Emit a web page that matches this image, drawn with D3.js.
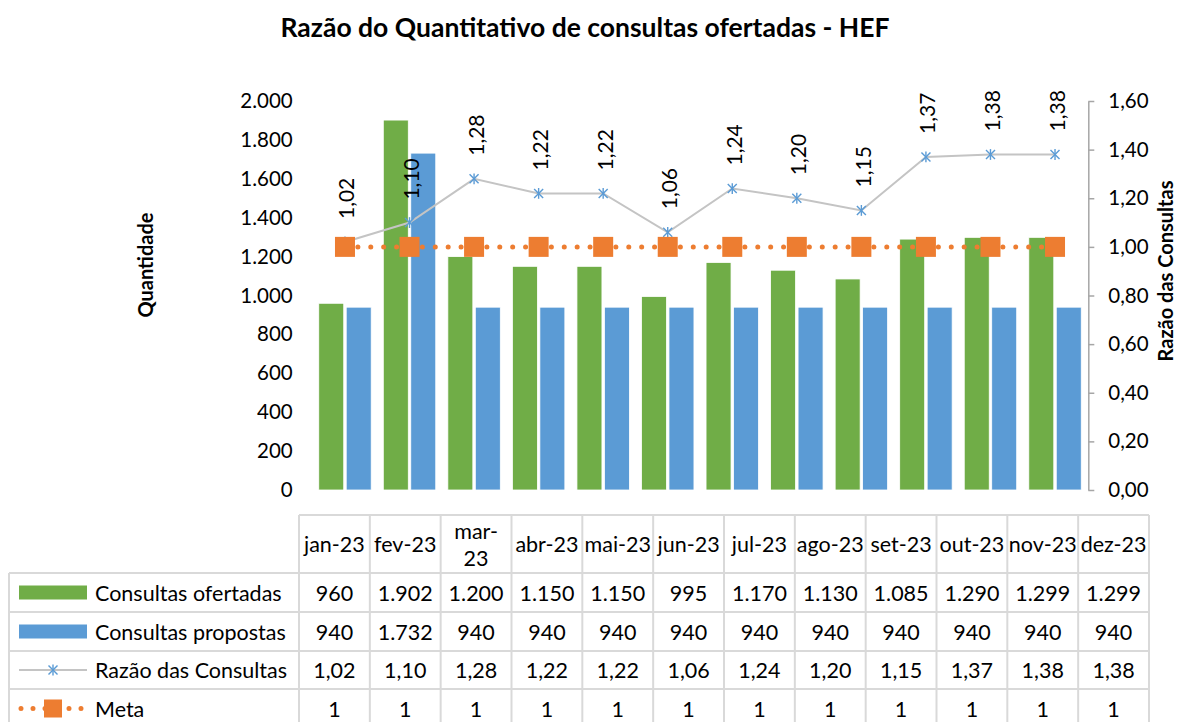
<!DOCTYPE html>
<html>
<head>
<meta charset="utf-8">
<script src="https://cdn.jsdelivr.net/npm/d3@7"></script>
<style>
  html, body { margin: 0; padding: 0; background: #fff; }
  svg { display: block; font-family: Lato, "Open Sans", sans-serif; }
</style>
</head>
<body>
<svg id="chart" width="1179" height="722"></svg>
<script>
// Monthly figures
const months = ["jan-23", "fev-23", "mar-23", "abr-23", "mai-23", "jun-23",
                "jul-23", "ago-23", "set-23", "out-23", "nov-23", "dez-23"];
// Table header lines per month (the narrow March cell wraps)
const headerLines = [["jan-23"], ["fev-23"], ["mar-", "23"], ["abr-23"], ["mai-23"], ["jun-23"],
                     ["jul-23"], ["ago-23"], ["set-23"], ["out-23"], ["nov-23"], ["dez-23"]];
const ofertadas = [960, 1902, 1200, 1150, 1150, 995, 1170, 1130, 1085, 1290, 1299, 1299];
const propostas = [940, 1732, 940, 940, 940, 940, 940, 940, 940, 940, 940, 940];
const razao = [1.02, 1.10, 1.28, 1.22, 1.22, 1.06, 1.24, 1.20, 1.15, 1.37, 1.38, 1.38];
const meta = [1, 1, 1, 1, 1, 1, 1, 1, 1, 1, 1, 1];
const leftTicks = [0, 200, 400, 600, 800, 1000, 1200, 1400, 1600, 1800, 2000];
const rightTicks = [0, 0.2, 0.4, 0.6, 0.8, 1.0, 1.2, 1.4, 1.6];

const C = { green: "#70AD47", blue: "#5B9BD5", orange: "#ED7D31", line: "#C4C4C4", grid: "#D9D9D9", axis: "#A6A6A6", text: "#000" };
const FONT = "Lato, 'Open Sans', sans-serif";

const br = d3.formatLocale({ decimal: ",", thousands: ".", grouping: [3], currency: ["R$", ""] });
const fInt = br.format(",.0f");
const fDec = br.format(",.2f");

const svg = d3.select("#chart");

// Title
svg.append("text")
  .attr("x", 585).attr("y", 37)
  .attr("text-anchor", "middle")
  .attr("font-size", 26.5).attr("font-weight", "bold")
  .text("Razão do Quantitativo de consultas ofertadas - HEF");

// Plot area
const plot = { left: 312.7, right: 1087.3, top: 101, bottom: 490 };

const x = d3.scaleBand().domain(months).range([plot.left, plot.right]);
const x1 = d3.scaleBand().domain(["o", "p"]).range([0, x.bandwidth()]).paddingInner(0.09).paddingOuter(0.22);
const yL = d3.scaleLinear().domain([0, 2000]).range([plot.bottom, plot.top]);
const yR = d3.scaleLinear().domain([0, 1.6]).range([plot.bottom, plot.top]);

// Left axis (labels only)
const gL = svg.append("g").attr("transform", `translate(${plot.left},0)`)
  .call(d3.axisLeft(yL).tickValues(leftTicks).tickFormat(fInt).tickSize(0).tickPadding(20));
gL.select(".domain").remove();
gL.selectAll("text").attr("font-size", 20.5).attr("font-family", FONT).attr("fill", C.text);

// Right axis
const gR = svg.append("g").attr("transform", `translate(${plot.right + 1},0)`)
  .call(d3.axisRight(yR).tickValues(rightTicks).tickFormat(fDec).tickSize(6).tickSizeOuter(0).tickPadding(14));
gR.select(".domain").attr("stroke", C.axis).attr("stroke-width", 1.5);
gR.selectAll(".tick line").attr("stroke", C.axis).attr("stroke-width", 1.5);
gR.selectAll("text").attr("font-size", 20.5).attr("font-family", FONT).attr("fill", C.text);

// Axis titles
svg.append("text")
  .attr("transform", `translate(153,265) rotate(-90)`)
  .attr("text-anchor", "middle").attr("font-size", 20).attr("font-weight", "bold")
  .text("Quantidade");
svg.append("text")
  .attr("transform", `translate(1173,271) rotate(-90)`)
  .attr("text-anchor", "middle").attr("font-size", 20).attr("font-weight", "bold")
  .text("Razão das Consultas");

// Bars
const bars = svg.append("g");
months.forEach((m, i) => {
  bars.append("rect")
    .attr("x", x(m) + x1("o")).attr("width", x1.bandwidth())
    .attr("y", yL(ofertadas[i])).attr("height", yL(0) - yL(ofertadas[i]))
    .attr("fill", C.green).attr("stroke", "#fff").attr("stroke-width", 0.8);
  bars.append("rect")
    .attr("x", x(m) + x1("p")).attr("width", x1.bandwidth())
    .attr("y", yL(propostas[i])).attr("height", yL(0) - yL(propostas[i]))
    .attr("fill", C.blue).attr("stroke", "#fff").attr("stroke-width", 0.8);
});

const cx = m => x(m) + x.bandwidth() / 2;

// Ratio line
svg.append("path")
  .datum(razao)
  .attr("fill", "none").attr("stroke", C.line).attr("stroke-width", 2)
  .attr("d", d3.line().x((d, i) => cx(months[i])).y(d => yR(d)));

// Asterisk markers
const star = (g, px, py, r) => {
  const s = g.append("g").attr("stroke", C.blue).attr("stroke-width", 1.4);
  s.append("line").attr("x1", px - r).attr("y1", py - r).attr("x2", px + r).attr("y2", py + r);
  s.append("line").attr("x1", px - r).attr("y1", py + r).attr("x2", px + r).attr("y2", py - r);
  s.append("line").attr("x1", px).attr("y1", py - r * 1.2).attr("x2", px).attr("y2", py + r * 1.2);
};
const stars = svg.append("g");
razao.forEach((v, i) => star(stars, cx(months[i]), yR(v), 4.5));

// Meta dotted line and square markers
svg.append("path")
  .datum(meta)
  .attr("fill", "none").attr("stroke", C.orange).attr("stroke-width", 5)
  .attr("stroke-linecap", "round").attr("stroke-dasharray", "0 12.9")
  .attr("d", d3.line().x((d, i) => cx(months[i])).y(d => yR(d)));
svg.append("g").selectAll("rect").data(meta).join("rect")
  .attr("x", (d, i) => cx(months[i]) - 10).attr("y", d => yR(d) - 10)
  .attr("width", 20).attr("height", 20).attr("fill", C.orange);

// Ratio value labels
svg.append("g").selectAll("text").data(razao).join("text")
  .attr("transform", (d, i) => `translate(${cx(months[i]) + 1},${yR(d) - 23}) rotate(-90)`)
  .attr("text-anchor", "start").attr("dominant-baseline", "central")
  .attr("font-size", 21).attr("fill", C.text)
  .text(d => fDec(d));

// Data table
const tbl = { left: 9, keyRight: 299, right: 1149, headTop: 515, rows: [573, 612, 651, 689, 728] };
const col = d3.scaleBand().domain(months).range([tbl.keyRight, tbl.right]);
const tg = svg.append("g");
const gridLine = (x1_, y1_, x2_, y2_) => tg.append("line")
  .attr("x1", x1_).attr("y1", y1_).attr("x2", x2_).attr("y2", y2_)
  .attr("stroke", C.grid).attr("stroke-width", 2);

// horizontal lines
gridLine(tbl.keyRight, tbl.headTop, tbl.right, tbl.headTop);
tbl.rows.slice(0, 4).forEach(yv => gridLine(tbl.left, yv, tbl.right, yv));
// vertical lines
gridLine(tbl.left, tbl.rows[0], tbl.left, 722);
months.forEach(m => gridLine(col(m), tbl.headTop, col(m), 722));
gridLine(tbl.right, tbl.headTop, tbl.right, 722);

const TS = 21.5;
// header labels
const headY = (tbl.headTop + tbl.rows[0]) / 2;
months.forEach((m, i) => {
  const lines = headerLines[i];
  const t = tg.append("text").attr("text-anchor", "middle").attr("font-size", TS);
  const lh = 27;
  lines.forEach((ln, k) => {
    t.append("tspan")
      .attr("x", col(m) + col.bandwidth() / 2)
      .attr("y", headY + (k - (lines.length - 1) / 2) * lh)
      .attr("dominant-baseline", "central")
      .text(ln);
  });
});

const rowsData = [
  { name: "Consultas ofertadas", vals: ofertadas.map(fInt) },
  { name: "Consultas propostas", vals: propostas.map(fInt) },
  { name: "Razão das Consultas", vals: razao.map(fDec) },
  { name: "Meta", vals: meta.map(d => String(d)) }
];

rowsData.forEach((r, ri) => {
  const yc = (tbl.rows[ri] + tbl.rows[ri + 1]) / 2;
  tg.append("text").attr("x", 95).attr("y", yc)
    .attr("dominant-baseline", "central").attr("font-size", TS).text(r.name);
  r.vals.forEach((v, ci) => {
    tg.append("text").attr("x", col(months[ci]) + col.bandwidth() / 2).attr("y", yc)
      .attr("text-anchor", "middle").attr("dominant-baseline", "central")
      .attr("font-size", TS).text(v);
  });
  // legend keys
  const kx0 = 19, kx1 = 87, kc = (kx0 + kx1) / 2;
  if (ri === 0 || ri === 1) {
    tg.append("rect").attr("x", kx0).attr("y", yc - 7).attr("width", kx1 - kx0).attr("height", 14)
      .attr("fill", ri === 0 ? C.green : C.blue);
  } else if (ri === 2) {
    tg.append("line").attr("x1", kx0).attr("x2", kx1).attr("y1", yc).attr("y2", yc)
      .attr("stroke", C.line).attr("stroke-width", 2);
    star(tg, kc, yc, 4.5);
  } else {
    tg.append("line").attr("x1", kx0 + 2).attr("x2", kx1 - 2).attr("y1", yc).attr("y2", yc)
      .attr("stroke", C.orange).attr("stroke-width", 5).attr("stroke-linecap", "round")
      .attr("stroke-dasharray", "0 12");
    tg.append("rect").attr("x", kc - 9).attr("y", yc - 9).attr("width", 18).attr("height", 18)
      .attr("fill", C.orange);
  }
});
</script>
</body>
</html>
